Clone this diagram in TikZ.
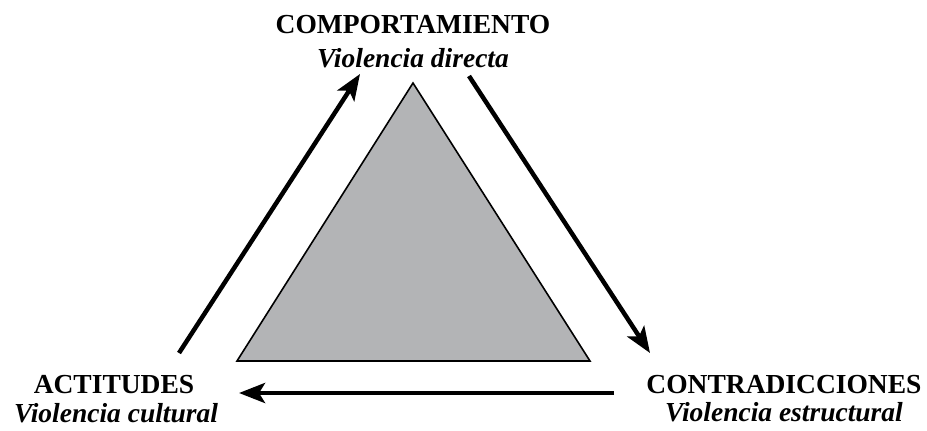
\documentclass[tikz,border=0pt]{standalone}
\usepackage{fontspec}
\setmainfont{Liberation Serif}
\usepackage{xcolor,tikz}
\definecolor{trigris}{RGB}{179,180,182}
\usetikzlibrary{arrows.meta,positioning}
\tikzset{>={Stealth[length=26pt,width=20pt,inset=6pt]}}
\tikzset{titulo/.style={anchor=base,font=\fontsize{27.5}{33}\selectfont\bfseries},
  subtitulo/.style={anchor=base,font=\fontsize{27.5}{33}\selectfont\bfseries\itshape},
  flecha/.style={->,line width=4.5pt}}

\begin{document}
\begin{tikzpicture}[x=1pt,y=-1pt]
\useasboundingbox (0,0) rectangle (927,431);
% triangulo
\draw[fill=trigris,line width=1.6pt,line join=miter] (413,83)--(237,361)--(590,361)--cycle;
% etiquetas
\node[titulo] (comp) at (413,33) {COMPORTAMIENTO};
\node[subtitulo] (directa) at (413,67) {Violencia directa};
\node[titulo] (act) at (114,393) {ACTITUDES};
\node[subtitulo] (cultural) at (116,422) {Violencia cultural};
\node[titulo] (contra) at (784,393) {CONTRADICCIONES};
\node[subtitulo] (estruct) at (784,421) {Violencia estructural};
% flechas
\coordinate (ai) at (179,353);
\coordinate (af) at (360,74);
\coordinate (bi) at (469,76);
\coordinate (bf) at (650,353);
\coordinate (ci) at (614,393);
\coordinate (cf) at (239,393);
\draw[flecha] (ai)--(af);
\draw[flecha] (bi)--(bf);
\draw[flecha] (ci)--(cf);
\end{tikzpicture}
\end{document}
